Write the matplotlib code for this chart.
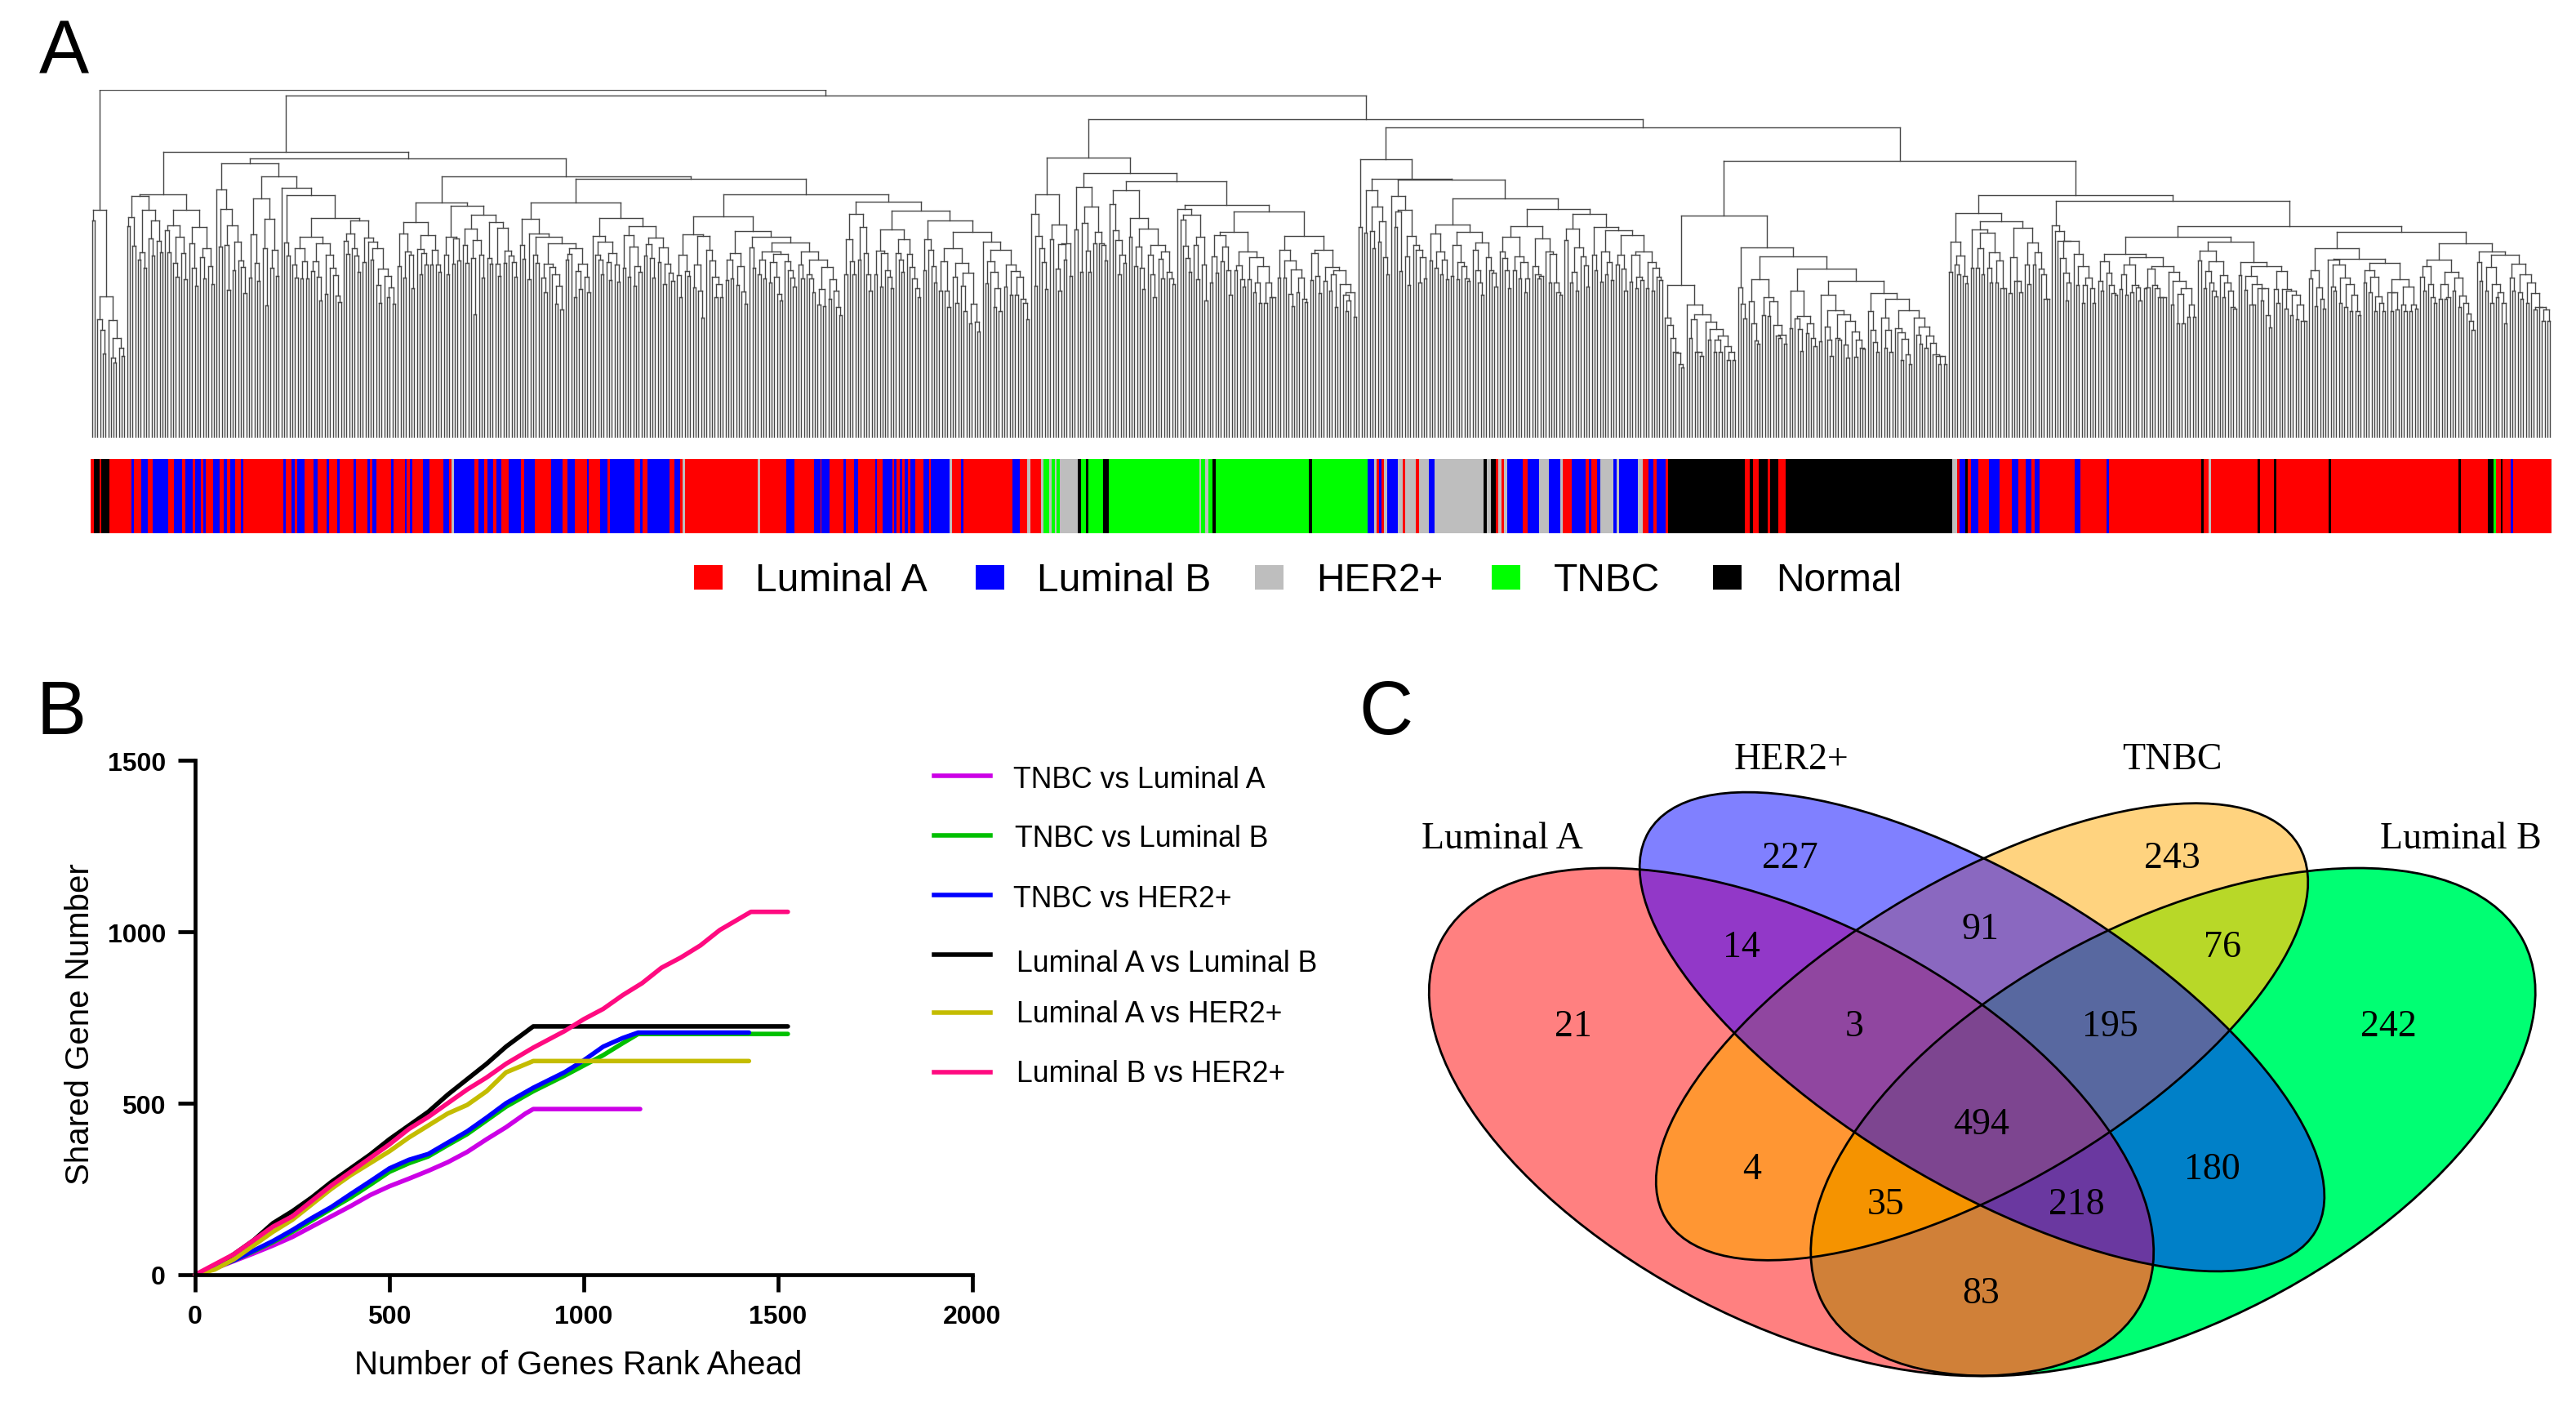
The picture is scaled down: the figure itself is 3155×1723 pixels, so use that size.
import sys
import numpy as np
import matplotlib
matplotlib.use("Agg")
import matplotlib.pyplot as plt
from matplotlib.collections import LineCollection
from matplotlib.lines import Line2D
from matplotlib.patches import Ellipse, Rectangle

sys.setrecursionlimit(5000)
plt.rcParams['font.family'] = ['Liberation Sans', 'DejaVu Sans']

# ---------- Panel A: dendrogram merge heights between neighbouring leaves ----------
g0 = [266,279,145,132,103,173,144,98,92,122,110,100]
g1 = [259,270,235,296,218,227,208,279,244,223,266,241,227,298,254,227,260,214,197,246,226,194,279,238,208,186,258,221,195,232,210,188]
g2 = [304,234,280,236,181,260,205,240,217,209,177]
g3 = [196,249,214,192,293,232,162,268,208,230,198]
g4 = [306,239,223]
g5 = [212,196,232,195,216,195,246,204,216,197,168,238,176,224,208,199,174,166]
g6 = [241,225,250,232,223,203]
g7 = [215,245,240,218,232,187,165,207,198,172,184,164]
c1 = [210,250,196,228,224,183,264,231,200,226,212,248,212,230,212,203,288,224,200,246,213,244,217,284,236,214,256,220,151,242,224,196,273,220,213,264,213,198,257,214,229,223,215,197]
c2a = [236,219,268,194,250,224,214,246,196,178,213,209,200,164,186,157,238,218,225,232,172,204,182,213,197,178]
c2b = [247,224,218,200,240,215,193,226,212,191,269,208,248,197,234,186,210,203,259,223,237,220,196,245,215,233,188,213,202,192]
c3 = [199,172,224,204,198,249,184,212,180,147,247,230,217,197,172,188,172,271,193,218,195,226,187,210,179,164,253,233,208,246,200,218,195,228,190,215,197,176,168,225,216,205,196,185,239,212,195,228,200,195,178,218,163,182,161,209,170,194,180,160,150]
c4 = [200,243,216,200,274,218,258,226,200,180,289,200,229,185,226,205,197,183,255,226,218,203,243,225,209,195,183,172,278,205,243,230,210,190,266,180,216,180,160,232,197,165,214,186,155,202,140,164,142,130,252,240,189,216,203,160,183,155,230,185,212,175,204,175,197,170,165,145]
d1a = [274,186,247,232,215,182,298,243,261,207,180,237,218,238,198]
d1b = [255,307,203,263,229,203,283,238,252,238,236,217,324,286,254,242,200,224,214,303,246,269,210,234,208,182,256,224,200,172,236,219,195,228,203,195,188,314,280,267,235,220,203,273,236,194,246,212,168,285,190,222,202,248,216,234,205,175,252,205,211,194,185,228,194,221,178,190,165,210,165,190,172,172,277,196,230,196,217,176,161,206,178,196,170,166,247,193,226,198,177,230,192,209,180,200,160,205,188,175,155,168,178,148]
d2 = [258,341,251,303,253,232,283,240,265,221,200,317,296,258,277,204,279,222,187,247,236,230,190,221,195,316,217,250,208,228,200,218,194,261,198,236,194,215,210,195,192,252,230,205,190,175,239,221,205,202,185,293,228,220,205,183,246,205,222,195,215,178,195,259,210,200,195,198,244,228,190,225,190,178,175,280,242,256,190,203,180,233,222,211,185,274,224,205,258,191,228,200,215,193,254,212,224,207,180,248,191,224,183,197,193,228,183,215,180,208,197,193]
e1 = [147,138,122,105,104,90,86,187,163,122,145,105,105,100,151,142,120,133,105,120,105,125,112,95,105,95]
e2 = [184,164,146,233,167,140,119,115,194,150,172,149,167,138,125,122,126,115,222,134,180,146,133,106,149,128,140,122,112,207,118,175,136,120,100,156,122,120,151,114,98,143,130,99,120,110,109,192,155,132,117,105,177,147,110,132,105,170,134,129,95,121,102,90,156,147,126,115,136,110,125,116,102,100,90,100,90]
e3 = [203,240,212,200,223,198,189,275,208,255,208,232,200,251,208,190,227,190,217,183,183,265,177,221,192,192,178,257,212,188,239,212,227,207,200,170,170]
e4 = [260,253,241,220,202,168,190,241,225,187,210,165,187,196,183,165]
e5 = [192,180,216,202,187,177,175,225,182,200,175,212,178,187,184,168,221,183,184,207,187,183,172,172,172,210,203,163,192,140,176,140,183,148,163,148,246,217,229,183,204,190,180,173,216,199,172,190,180,160,158,240,199,215,181,198,163,163,188,183,168,183,150,135,210,182,165,204,182,158,180,150,175,145,163,143,143]
e6 = [195,205,161,184,170,158,232,218,185,180,212,165,196,160,188,155,175,155,150,219,190,205,178,197,155,173,165,155,214,178,155,178,157,194,163,155,185,155,163,158,252,197,180,210,188,172,165,218,170,188,170,172,203,180,196,160,174,165,152,143,132,238,215,192,228,180,209,165,188,172,178,165,140,224,196,180,213,178,170,200,165,190,177,157,160,160,143,157,143]
merges = (g0+[426]+g1+[350]+g2+[336]+g3+[320]+g4+[297]+g5+[269]+g6+[266]+g7+[342]
          +c1+[320]+c2a+[288]+c2b+[317]+c3+[298]+c4+[419]
          +d1a+[343]+d1b+[390]+d2+[380]+e1+[272]+e2+[339]+e3+[297]+e4+[290]+e5+[259]+e6)

# subtype of each run along the strip: letter + width
strip_left = ("R4 K7 R3 K10 R28 B3 R10 B8 R6 B20 R8 B10 R4 B10 R3 B7 R3 B3 R10 B8 R5 B5 R4 B6 R7 B3 R52 B3 R7 B4 R3 B10 "
              "R11 B6 R11 B3 R11 B3 R18 B3 R14 B3 R4 B5 R19 B3 R14 B3 R4 B3 R13 B9 R18 B7 R3 H3 B26 R6 B7 R4 B7 R5 B6 "
              "R9 B16 R4 B14 R21 B14 R6 B10 R15 B3 R14 B10 R3 B31 R7 B4 R6 B28 R6 B8 R3 H3 R93 H3 R34 B10 R25 B8 R2 B10 "
              "R18 B3 R10 B6 R21 B3 R7 B12 R3 B3 R4 B3 R3 B4 R3 B7 R10 B7 R3 B24 H3 R11 B3 R63 B10 R9 H4 R14 H3 T7 H3 T4 "
              "H3 T4 H23 K4 T6 K3 T19 K7 T116 H3 T5 H4 T5 K4 T117")
strip_right = ("T2 K4 T69 B8 H3 R3 B3 R3 H4 B13 H6 R3 H14 R4 H12 B7 H60 K4 H5 K6 R3 H4 R3 H4 B20 R6 B14 H12 B14 H3 R11 B17 "
               "R4 B3 R7 B4 H17 B4 H3 B23 H6 R7 B6 R4 B11 R3 K95 R6 K4 R7 K11 R3 K10 R9 K206 H6 R3 B7 K3 R4 B9 R13 B13 R16 "
               "B8 R9 B7 R4 B6 R43 B7 R33 B3 R113 K3 R7 H3 R57 K3 R17 K3 R65 K3 R157 K3 R33 K7 T3 R6 K3 R10 B3 R47")
subtype_names = ['Luminal A', 'Luminal B', 'HER2+', 'TNBC', 'Normal']
subtype_keys = ['R', 'B', 'H', 'T', 'K']
subtype_colors = ['#FF0000', '#0000FF', '#BEBEBE', '#00FF00', '#000000']

# ---------- Panel B ----------
rank_a = [0,50,100,150,200,250,300,350,400,450,500,550,600,650,700,750,800,850,870,1145]
rank_b = [0,50,100,150,200,250,300,350,400,450,500,550,600,650,700,750,800,870,950,1000,1050,1100,1140,1525]
rank_c = rank_b[:-1] + [1425]
rank_d = [0,50,100,150,200,250,300,350,400,450,500,550,600,650,700,750,800,870,1525]
rank_e = rank_d[:-1] + [1425]
rank_f = [0,50,100,150,200,250,300,350,400,450,500,550,600,650,700,750,800,870,950,1000,1050,1100,1150,1200,1250,1300,1350,1430,1525]
tnbc_luma = [0,18,40,62,85,110,140,170,200,232,258,280,303,328,358,395,430,470,483,483]
tnbc_lumb = [0,20,42,68,95,125,158,192,225,262,300,325,345,378,410,450,490,535,580,610,640,675,702,702]
tnbc_her2 = [0,20,42,70,98,130,165,197,235,272,310,335,352,385,418,458,500,545,590,625,665,690,706,706]
luma_lumb = [0,22,60,100,150,185,225,270,310,350,395,435,475,525,570,615,665,724,724]
luma_her2 = [0,15,45,85,125,160,205,250,290,325,360,400,435,470,495,535,590,623,623]
lumb_her2 = [0,30,60,100,140,170,215,260,300,340,380,425,460,500,540,575,615,662,710,745,775,815,850,895,925,960,1005,1058,1058]
series_names = ['TNBC vs Luminal A', 'TNBC vs Luminal B', 'TNBC vs HER2+',
                'Luminal A vs Luminal B', 'Luminal A vs HER2+', 'Luminal B vs HER2+']
series_colors = ['#CC00E6', '#00C000', '#0000FF', '#000000', '#C4BC00', '#FF0A80']

# ---------- Panel C ----------
venn_sets = ['Luminal A', 'HER2+', 'TNBC', 'Luminal B']
venn_membership = [1, 2, 4, 8, 3, 6, 12, 7, 14, 15, 5, 10, 13, 11, 9]
venn_counts = [21, 227, 243, 242, 14, 91, 76, 3, 195, 494, 4, 180, 35, 218, 83]
venn_colors = ['#FF8080', '#8080FF', '#FFD37F', '#00FF73', '#9238C8', '#8A68C0', '#B8D828', '#9046A0',
               '#5868A0', '#7D4590', '#FF9633', '#0080C8', '#F59300', '#6A38A0', '#D08038']

W, H = 3155, 1724
fig = plt.figure(figsize=(W/100, H/100), dpi=100, facecolor='white')


def px_axes(x0, y0, x1, y1, **kw):
    return fig.add_axes([x0/W, 1-y1/H, (x1-x0)/W, (y1-y0)/H], **kw)


# overlay in picture coordinates for annotation and the Venn panel
ov = px_axes(0, 0, W, H)
ov.set_axis_off()

# --- dendrogram ---
ax = px_axes(111, 111, 3125, 537)
ax.set_axis_off()
m = np.asarray(merges, float)
n = len(m) + 1
segs = []


def build(l, r):
    if l == r:
        return float(l), 0.0
    k = l + int(np.argmax(m[l:r]))
    h = m[k]
    xl, hl = build(l, k)
    xr, hr = build(k+1, r)
    segs.append([(xl, hl), (xl, h)])
    segs.append([(xr, hr), (xr, h)])
    segs.append([(xl, h), (xr, h)])
    return (xl+xr)/2, h


build(0, n-1)
ax.add_collection(LineCollection(segs, colors='#454545', linewidths=1.0, capstyle='projecting'))
ax.set_xlim(-0.5, n-0.5)
ax.set_ylim(0, m.max())

# --- strip ---
sx = px_axes(111, 563, 3125, 654)
sx.set_axis_off()
key2col = dict(zip(subtype_keys, subtype_colors))
left = 0.0
for text, scale in ((strip_left, 1.045), (strip_right, 1.008)):
    for tok in text.split():
        w = float(tok[1:]) / scale
        sx.bar(left, 1, width=w, align='edge', color=key2col[tok[0]], linewidth=0, antialiased=False)
        left += w
sx.set_xlim(0, left)
sx.set_ylim(0, 1)

# --- legend of panel A ---
leg_sq_x = [850, 1195, 1537, 1827, 2098]
leg_tx_x = [925, 1270, 1612, 1903, 2175]
for nm, col, xs, xt in zip(subtype_names, subtype_colors, leg_sq_x, leg_tx_x):
    ov.add_patch(Rectangle((xs, 693), 35, 30, facecolor=col, edgecolor='none'))
    ov.text(xt, 712, nm, fontsize=34.5, ha='left', va='center', color='black')

# --- panel B ---
b = px_axes(239, 932, 1191, 1562)
xs_all = [rank_a, rank_b, rank_c, rank_d, rank_e, rank_f]
ys_all = [tnbc_luma, tnbc_lumb, tnbc_her2, luma_lumb, luma_her2, lumb_her2]
order = [3, 0, 1, 2, 4, 5]
for i in order:
    b.plot(xs_all[i], ys_all[i], color=series_colors[i], lw=4.0, solid_capstyle='round', clip_on=False)
b.set_xlim(0, 2000)
b.set_ylim(0, 1500)
b.set_xticks([0, 500, 1000, 1500, 2000])
b.set_yticks([0, 500, 1000, 1500])
for s in ('top', 'right'):
    b.spines[s].set_visible(False)
for s in ('left', 'bottom'):
    b.spines[s].set_linewidth(3.4)
b.tick_params(width=3.4, length=15, pad=11)
for lab in b.get_xticklabels() + b.get_yticklabels():
    lab.set_fontsize(23)
    lab.set_fontweight('bold')
b.patch.set_alpha(0)
ov.text(708, 1672, 'Number of Genes Rank Ahead', fontsize=29, ha='center', va='center')
ov.text(98, 1254, 'Shared Gene Number', fontsize=29, rotation=90, ha='center', va='center')

leg_y_line = [951, 1024, 1097, 1170, 1241, 1314]
leg_y_text = [956, 1028, 1102, 1181, 1243, 1316]
leg_x_text = [1241, 1243, 1241, 1245, 1245, 1245]
for nm, col, yl, yt, xt in zip(series_names, series_colors, leg_y_line, leg_y_text, leg_x_text):
    ov.add_line(Line2D([1144, 1213], [yl, yl], color=col, lw=4.0))
    ov.text(xt, yt, nm, fontsize=25.7, ha='left', va='center')

# --- panel C ---
ell = [(2194, 1375, 483, 245.6, 27.3), (2427.5, 1264.5, 476, 188, 31.0),
       (2427.5, 1264.5, 450, 187.6, -30.5), (2661.5, 1375, 483, 245.6, -27.3)]
x0, x1, y0, y1 = 1740, 3115, 960, 1700
gx, gy = np.meshgrid(np.arange(x0, x1)+0.5, np.arange(y0, y1)+0.5)
code = np.zeros(gx.shape, int)
for bit, (cx, cy, a, bb, ang) in enumerate(ell):
    t = np.deg2rad(ang)
    dx, dy = gx-cx, gy-cy
    u = dx*np.cos(t)+dy*np.sin(t)
    v = -dx*np.sin(t)+dy*np.cos(t)
    code[(u/a)**2+(v/bb)**2 <= 1] += 2**bit
rgba = np.zeros(gx.shape+(4,))
for mem, col in zip(venn_membership, venn_colors):
    rgba[code == mem] = matplotlib.colors.to_rgba(col)
ov.imshow(rgba, extent=(x0, x1, y1, y0), interpolation='nearest', aspect='auto', zorder=1)
for (cx, cy, a, bb, ang) in ell:
    ov.add_patch(Ellipse((cx, cy), 2*a, 2*bb, angle=ang, fill=False, edgecolor='black', lw=2.0, zorder=2))

serif = ['Liberation Serif', 'DejaVu Serif']
venn_pos = [(1927, 1258), (2192, 1052), (2660, 1052), (2925, 1258), (2133, 1161), (2425, 1139), (2722, 1161),
            (2271, 1258), (2584, 1258), (2427, 1378), (2146, 1433), (2709, 1433), (2310, 1476), (2543, 1476), (2426, 1585)]
for c, (px, py) in zip(venn_counts, venn_pos):
    ov.text(px, py, str(c), family=serif, fontsize=33, ha='center', va='center', zorder=3)
venn_label_pos = [(1840, 1028), (2194, 931), (2660, 931), (3014, 1028)]
for nm, (px, py) in zip(venn_sets, venn_label_pos):
    ov.text(px, py, nm, family=serif, fontsize=33, ha='center', va='center', zorder=3)

# --- panel letters ---
ov.text(48, 90, 'A', fontsize=66, ha='left', va='baseline')
ov.text(44, 899, 'B', fontsize=66, ha='left', va='baseline')
ov.text(1664, 899, 'C', fontsize=66, ha='left', va='baseline')

ov.set_xlim(0, W)
ov.set_ylim(H, 0)

fig.savefig('out.png', dpi=100, facecolor='white')
